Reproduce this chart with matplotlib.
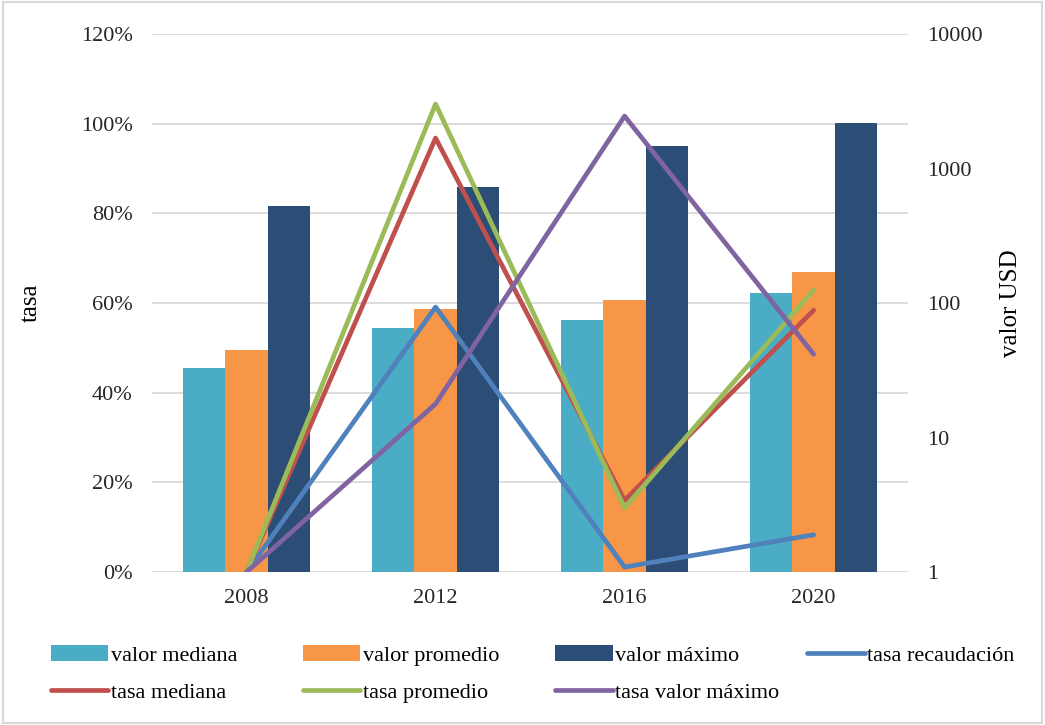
import numpy as np
import matplotlib.pyplot as plt
from matplotlib.patches import Rectangle
from matplotlib.ticker import FixedLocator, FixedFormatter

plt.rcParams['font.family'] = ['Liberation Serif', 'DejaVu Serif']

# 数据
years = ['2008', '2012', '2016', '2020']
valor_mediana = [33, 65, 75, 118]
valor_promedio = [45, 90, 105, 170]
valor_maximo = [530, 730, 1470, 2180]
tasa_recaudacion = [0.0, 59.1, 1.1, 8.3]
tasa_mediana = [0.0, 96.8, 16.0, 58.4]
tasa_promedio = [0.0, 104.4, 14.3, 62.9]
tasa_valor_maximo = [0.0, 37.5, 101.7, 48.6]

fig = plt.figure(figsize=(10.45, 7.25), dpi=100)
ax2 = fig.add_axes([0.1455, 0.211, 0.7235, 0.742])  # barras, eje log a la derecha
ax = ax2.twinx()  # líneas (tasa)

x = np.arange(len(years))
w = 0.224
ax2.set_yscale('log')
ax2.set_ylim(1, 10000)
ax2.set_xlim(-0.5, 3.5)

# cuadrícula a la altura de cada 20 % (dibujada detrás de las barras)
for k in range(7):
    ax2.axhline(10 ** (4 * k / 6), color='#D9D9D9', lw=1.3, zorder=0)

b1 = ax2.bar(x - w, valor_mediana, w, color='#4BACC6', label='valor mediana', zorder=2)
b2 = ax2.bar(x, valor_promedio, w, color='#F79646', label='valor promedio', zorder=2)
b3 = ax2.bar(x + w, valor_maximo, w, color='#2C4D75', label='valor máximo', zorder=2)

lw = 3.4
l1, = ax.plot(x, tasa_recaudacion, color='#4F81BD', lw=lw, solid_capstyle='round', label='tasa recaudación')
l2, = ax.plot(x, tasa_mediana, color='#C0504D', lw=lw, solid_capstyle='round', label='tasa mediana')
l3, = ax.plot(x, tasa_promedio, color='#9BBB59', lw=lw, solid_capstyle='round', label='tasa promedio')
l4, = ax.plot(x, tasa_valor_maximo, color='#8064A2', lw=lw, solid_capstyle='round', label='tasa valor máximo')
ax.set_ylim(0, 120)

# ejes: tasa a la izquierda, valor USD a la derecha
ax.yaxis.tick_left()
ax.yaxis.set_label_position('left')
ax2.yaxis.tick_right()
ax2.yaxis.set_label_position('right')
ax.set_yticks(range(0, 121, 20))
ax.set_yticklabels([f'{v}%' for v in range(0, 121, 20)])
ax2.yaxis.set_major_locator(FixedLocator([1, 10, 100, 1000, 10000]))
ax2.yaxis.set_major_formatter(FixedFormatter(['1', '10', '100', '1000', '10000']))
ax2.yaxis.set_minor_locator(FixedLocator([]))
ax2.set_xticks(x)
ax2.set_xticklabels(years)

for a in (ax, ax2):
    for s in a.spines.values():
        s.set_visible(False)
    a.tick_params(length=0, labelsize=16, colors='#262626')
ax.tick_params(axis='y', pad=14)
ax2.tick_params(axis='y', pad=14)
ax2.tick_params(axis='x', pad=12)

ax.set_ylabel('tasa', fontsize=18, labelpad=28)
ax2.set_ylabel('valor USD', fontsize=18, labelpad=12)

ax.set_zorder(2)
ax.patch.set_visible(False)

# leyenda: una columna por cada grupo, colocadas a mano
columns = [[b1, l2], [b2, l3], [b3, l4], [l1]]
col_x = [0.040, 0.281, 0.523, 0.764]
for hs, cx in zip(columns, col_x):
    fig.legend(handles=hs, labels=[h.get_label() for h in hs],
               loc='upper left', bbox_to_anchor=(cx, 0.123), frameon=False,
               fontsize=16, handlelength=2.6, handleheight=0.75,
               handletextpad=0.1, labelspacing=0.75, borderaxespad=0)

fig.add_artist(Rectangle((0.003, 0.003), 0.994, 0.994, transform=fig.transFigure,
                         fill=False, edgecolor='#D9D9D9', lw=1.5))

plt.savefig('out.png', dpi=100)
